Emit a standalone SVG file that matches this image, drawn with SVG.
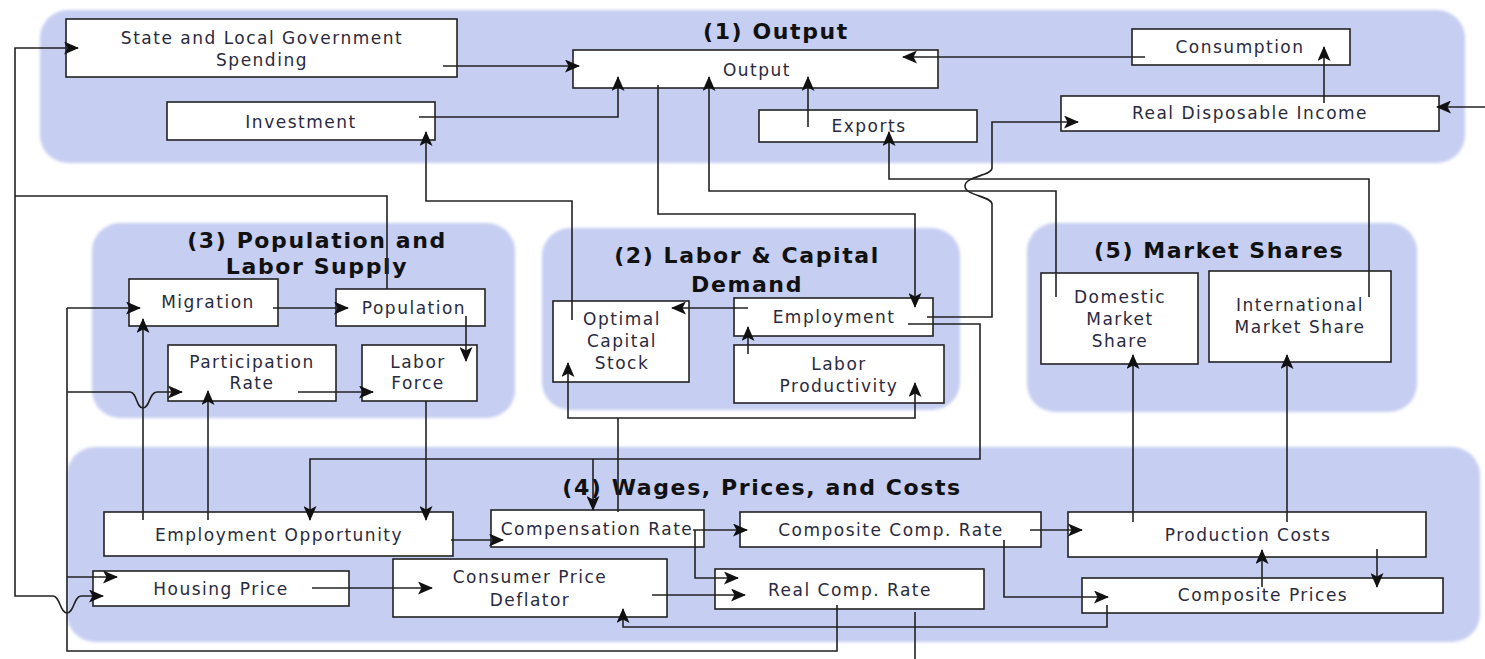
<svg xmlns="http://www.w3.org/2000/svg" width="1485" height="659" viewBox="0 0 1485 659">
<defs>
<marker id="arr" markerUnits="userSpaceOnUse" markerWidth="15" markerHeight="13" refX="14" refY="6.5" orient="auto">
<path d="M0,0 L15,6.5 L0,13 L3.5,6.5 z" fill="#111"/>
</marker>
<filter id="soft" x="-5%" y="-5%" width="110%" height="110%">
<feGaussianBlur stdDeviation="1.5"/>
</filter>
</defs>
<style>
.panel{fill:#c6cef2;filter:url(#soft)}
.box{fill:#fff;stroke:#222;stroke-width:1.6}
.lbl{font-family:"DejaVu Sans",Verdana,sans-serif;font-size:17px;letter-spacing:1.5px;fill:#2a2a3e;text-anchor:middle}
.ttl{font-family:"DejaVu Sans",Verdana,sans-serif;font-size:22px;font-weight:bold;letter-spacing:1.6px;fill:#111;text-anchor:middle}
.c{fill:none;stroke:#222;stroke-width:1.6}
.a{marker-end:url(#arr)}
</style>
<rect width="1485" height="659" fill="#fff"/>
<g id="panels">
<rect class="panel" x="40" y="10" width="1425" height="153" rx="28"/>
<rect class="panel" x="92" y="223" width="423" height="195" rx="28"/>
<rect class="panel" x="542" y="228" width="418" height="182" rx="28"/>
<rect class="panel" x="1027" y="223" width="390" height="189" rx="28"/>
<rect class="panel" x="67" y="447" width="1413" height="195" rx="28"/>
</g>
<g id="titles">
<text class="ttl" x="776" y="39">(1) Output</text>
<text class="ttl" x="317" y="248">(3) Population and</text>
<text class="ttl" x="317" y="274">Labor Supply</text>
<text class="ttl" x="747" y="263">(2) Labor &amp; Capital</text>
<text class="ttl" x="747" y="292">Demand</text>
<text class="ttl" x="1219" y="258">(5) Market Shares</text>
<text class="ttl" x="762" y="495">(4) Wages, Prices, and Costs</text>
</g>
<g id="slg"><rect class="box" x="66" y="19" width="391" height="58"/><text class="lbl" x="262" y="44">State and Local Government</text><text class="lbl" x="262" y="66">Spending</text></g>
<g id="output"><rect class="box" x="573" y="50" width="365" height="38"/><text class="lbl" x="757" y="76">Output</text></g>
<g id="investment"><rect class="box" x="167" y="102" width="268" height="38"/><text class="lbl" x="301" y="128">Investment</text></g>
<g id="exports"><rect class="box" x="759" y="110" width="218" height="32"/><text class="lbl" x="869" y="132">Exports</text></g>
<g id="consumption"><rect class="box" x="1132" y="29" width="218" height="36"/><text class="lbl" x="1240" y="53">Consumption</text></g>
<g id="rdi"><rect class="box" x="1061" y="96" width="378" height="35"/><text class="lbl" x="1250" y="119">Real Disposable Income</text></g>
<g id="migration"><rect class="box" x="129" y="279" width="149" height="47"/><text class="lbl" x="208" y="308">Migration</text></g>
<g id="population"><rect class="box" x="336" y="289" width="149" height="37"/><text class="lbl" x="414" y="314">Population</text></g>
<g id="participation"><rect class="box" x="168" y="345" width="168" height="56"/><text class="lbl" x="252" y="368">Participation</text><text class="lbl" x="252" y="389">Rate</text></g>
<g id="laborforce"><rect class="box" x="362" y="345" width="115" height="56"/><text class="lbl" x="418" y="368">Labor</text><text class="lbl" x="418" y="389">Force</text></g>
<g id="optcap"><rect class="box" x="553" y="301" width="136" height="81"/><text class="lbl" x="622" y="325">Optimal</text><text class="lbl" x="622" y="347">Capital</text><text class="lbl" x="622" y="369">Stock</text></g>
<g id="employment"><rect class="box" x="734" y="298" width="199" height="38"/><text class="lbl" x="834" y="323">Employment</text></g>
<g id="laborprod"><rect class="box" x="734" y="345" width="210" height="58"/><text class="lbl" x="839" y="370">Labor</text><text class="lbl" x="839" y="392">Productivity</text></g>
<g id="domestic"><rect class="box" x="1041" y="273" width="157" height="91"/><text class="lbl" x="1120" y="303">Domestic</text><text class="lbl" x="1120" y="325">Market</text><text class="lbl" x="1120" y="347">Share</text></g>
<g id="international"><rect class="box" x="1209" y="271" width="182" height="91"/><text class="lbl" x="1300" y="311">International</text><text class="lbl" x="1300" y="333">Market Share</text></g>
<g id="empopp"><rect class="box" x="104" y="512" width="349" height="44"/><text class="lbl" x="279" y="541">Employment Opportunity</text></g>
<g id="housing"><rect class="box" x="93" y="571" width="256" height="35"/><text class="lbl" x="221" y="595">Housing Price</text></g>
<g id="cpd"><rect class="box" x="393" y="559" width="274" height="58"/><text class="lbl" x="530" y="583">Consumer Price</text><text class="lbl" x="530" y="606">Deflator</text></g>
<g id="comprate"><rect class="box" x="491" y="510" width="213" height="37"/><text class="lbl" x="597" y="535">Compensation Rate</text></g>
<g id="compositecomp"><rect class="box" x="740" y="512" width="301" height="35"/><text class="lbl" x="891" y="536">Composite Comp. Rate</text></g>
<g id="realcomp"><rect class="box" x="715" y="569" width="269" height="40"/><text class="lbl" x="850" y="596">Real Comp. Rate</text></g>
<g id="prodcosts"><rect class="box" x="1068" y="512" width="358" height="45"/><text class="lbl" x="1248" y="541">Production Costs</text></g>
<g id="compprices"><rect class="box" x="1082" y="578" width="361" height="35"/><text class="lbl" x="1263" y="601">Composite Prices</text></g>
<g id="connectors">
<path class="c a" d="M443,66 H579"/>
<path class="c a" d="M419,117 H618 V77"/>
<path class="c a" d="M808,127 V77"/>
<path class="c a" d="M1145,57 H903"/>
<path class="c a" d="M1324,103 V47"/>
<path class="c a" d="M1485,107 H1437"/>
<path class="c" d="M387,289 V196 H15"/>
<path class="c a" d="M15,196 V48 H78"/>
<path class="c a" d="M15,196 V596 H53 C60,596 60,613 67,613 C74,613 74,596 81,596 H103"/>
<path class="c" d="M837,605 V651 H67 V308"/>
<path class="c a" d="M67,308 H140"/>
<path class="c a" d="M67,392 H130 C137,392 136,408 143,408 C150,408 149,392 157,392 H182"/>
<path class="c a" d="M67,577 H117"/>
<path class="c a" d="M143,520 V319"/>
<path class="c a" d="M208,520 V391"/>
<path class="c a" d="M273,308 H348"/>
<path class="c a" d="M466,316 V361"/>
<path class="c a" d="M298,392 H373"/>
<path class="c a" d="M426,401 V520"/>
<path class="c a" d="M908,324 H980 V459 H310 V520"/>
<path class="c a" d="M593,459 V510"/>
<path class="c a" d="M658,85 V214 H915 V307"/>
<path class="c a" d="M1056,297 V191 H709 V77"/>
<path class="c a" d="M1369,297 V179 H889 V132"/>
<path class="c a" d="M927,317 H992 V204 C992,196 965,196 965,186 C965,176 992,176 992,168 V122 H1078"/>
<path class="c a" d="M748,354 V327"/>
<path class="c a" d="M748,308 H672"/>
<path class="c a" d="M572,320 V201 H426 V132"/>
<path class="c" d="M618,512 V418"/>
<path class="c a" d="M618,418 H568 V363"/>
<path class="c a" d="M618,418 H915 V383"/>
<path class="c a" d="M451,540 H503"/>
<path class="c a" d="M312,588 H432"/>
<path class="c a" d="M652,595 H745"/>
<path class="c a" d="M695,530 V578 H738"/>
<path class="c a" d="M693,530 H747"/>
<path class="c a" d="M1030,530 H1082"/>
<path class="c a" d="M1004,540 V597 H1108"/>
<path class="c a" d="M1107,605 V627 H623 V609"/>
<path class="c a" d="M1262,587 V550"/>
<path class="c a" d="M1377,549 V587"/>
<path class="c a" d="M1133,522 V355"/>
<path class="c a" d="M1287,522 V355"/>
<path class="c" d="M915,612 V659"/>
</g>
</svg>
